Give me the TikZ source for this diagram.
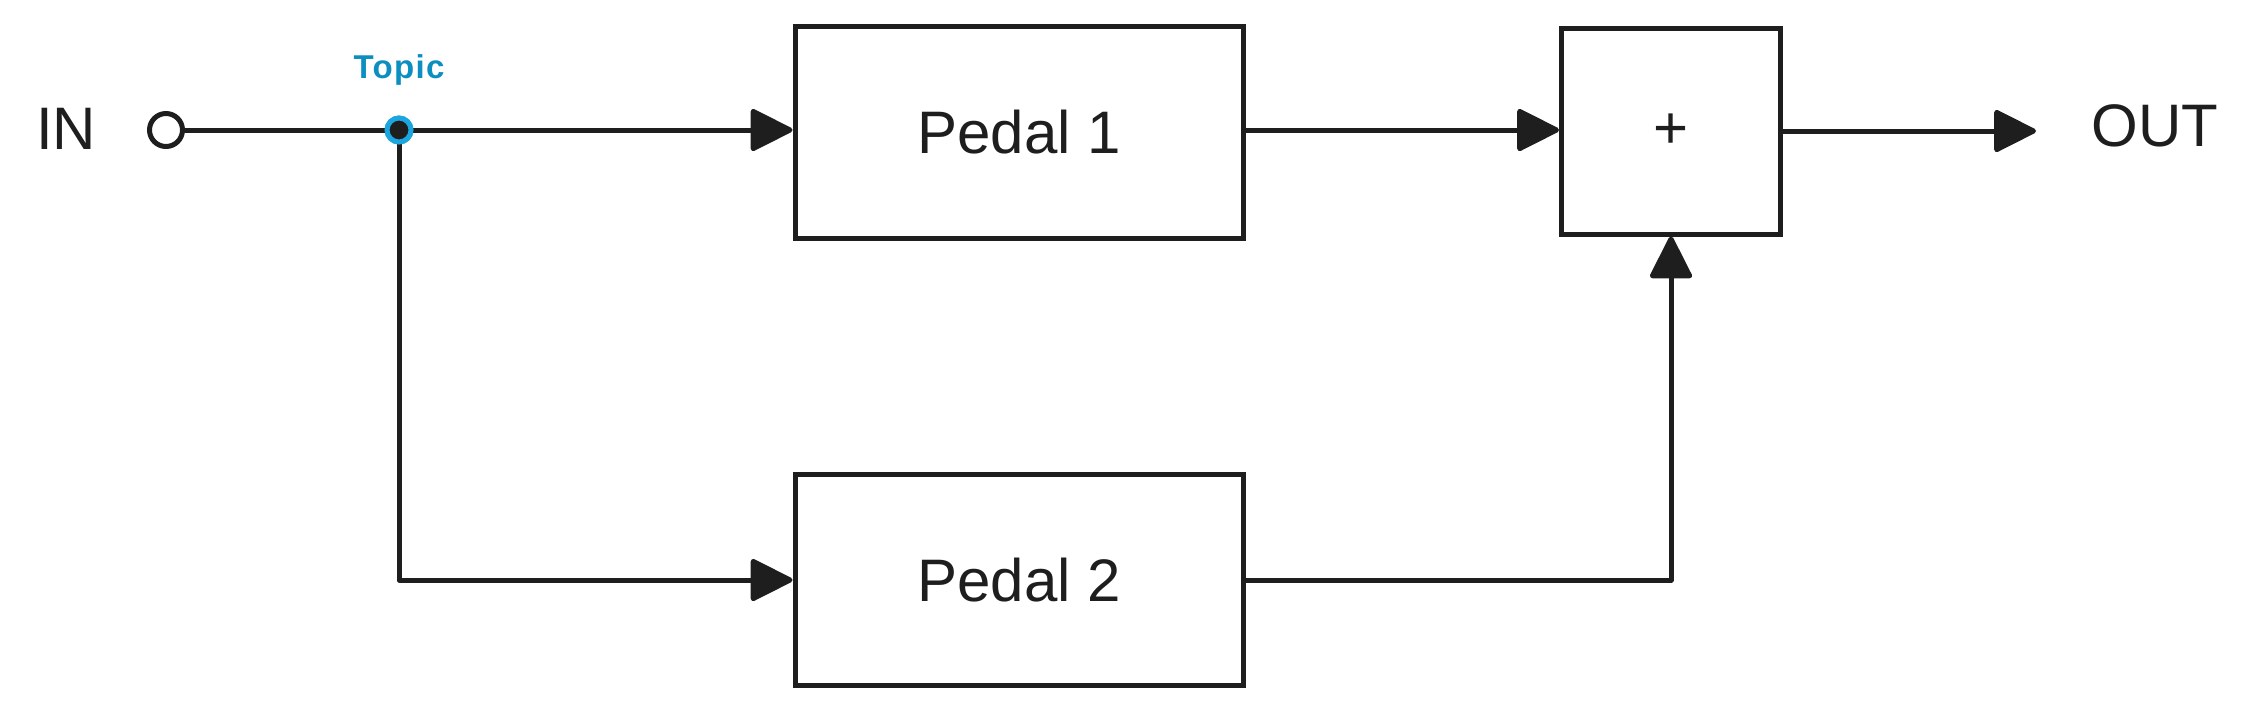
\documentclass[tikz,border=0pt]{standalone}
\usepackage{fontspec}
\setmainfont{Liberation Sans}
\newfontfamily\topicfont[LetterSpace=4]{Liberation Sans Bold}
\usetikzlibrary{arrows.meta,positioning,calc}
\definecolor{ink}{HTML}{1E1E1E}
\definecolor{topicblue}{HTML}{0B8FC0}
\definecolor{ringblue}{HTML}{1BA6E0}
\tikzset{
  block/.style={draw=ink, line width=5pt, fill=white, rectangle, inner sep=0pt,
    font=\fontsize{60}{72}\selectfont, text=ink},
  wire/.style={draw=ink, line width=5pt, line cap=round, line join=round},
  arr/.style={wire, -{Triangle[length=45pt,width=44pt,round]}},
  label/.style={inner sep=0pt, font=\fontsize{60}{72}\selectfont, text=ink},
}
\begin{document}
\begin{tikzpicture}[x=1pt,y=-1pt]
\useasboundingbox (0,0) rectangle (2256,713);
% nodes
\node[label] (inlab) at (66,129) {IN};
\node[circle, draw=ink, line width=5pt, minimum size=33pt, inner sep=0pt] (incirc) at (166,130) {};
\node[block, minimum width=448pt, minimum height=212pt] (p1) at (1019,132) {Pedal 1};
\node[block, minimum width=448pt, minimum height=211pt] (p2) at (1019,580) {Pedal 2};
\node[block, minimum width=219pt, minimum height=206pt] (plus) at (1671,131) {+};
\node[label] (outlab) at (2155,126) {OUT};
\coordinate (outtip) at (2036,131);
\node[circle, fill=ink, draw=ringblue, line width=5pt, minimum size=24pt, inner sep=0pt] (topic) at (399,130) {};
\node[anchor=base, inner sep=0pt, text=topicblue, font=\topicfont\fontsize{33}{38}\selectfont] (topiclab) at (399,78) {Topic};
% connectors
\draw[wire] (incirc.east) -- (topic.center);
\draw[arr] (topic.center) -- (topic -| p1.west);
\draw[arr] (topic.center) |- (p2.west);
\draw[arr] (p1.east |- topic) -- (topic -| plus.west);
\draw[arr] (plus.east) -- (outtip);
\draw[arr] (p2.east) -| (plus.south);
% redraw dot on top
\node[circle, fill=ink, draw=ringblue, line width=5pt, minimum size=24pt, inner sep=0pt] at (topic) {};
\end{tikzpicture}
\end{document}
